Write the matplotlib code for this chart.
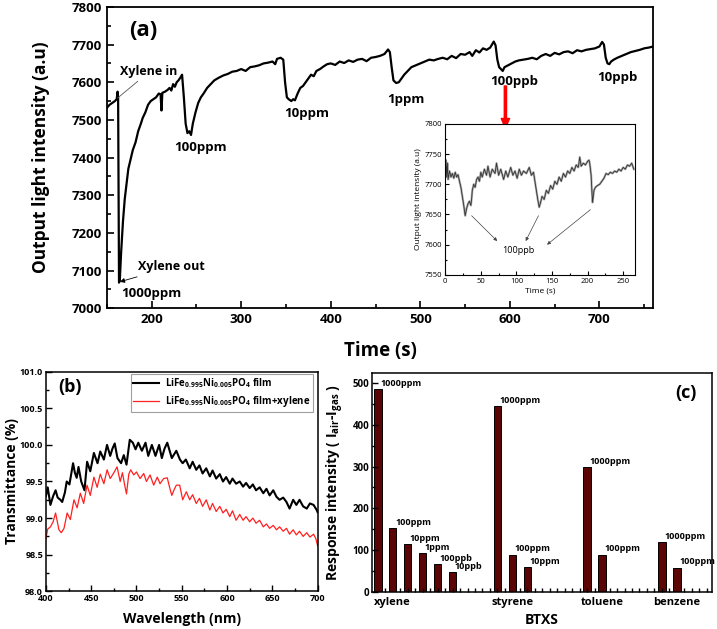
import numpy as np
import matplotlib
matplotlib.use('Agg')
import matplotlib.pyplot as plt
from matplotlib.ticker import MultipleLocator

plt.rcParams['font.family'] = ['Open Sans', 'DejaVu Sans']
plt.rcParams['font.weight'] = 'bold'
plt.rcParams['mathtext.fontset'] = 'custom'
plt.rcParams['mathtext.rm'] = 'Open Sans:bold'
plt.rcParams['mathtext.bf'] = 'Open Sans:bold'
plt.rcParams['mathtext.default'] = 'rm'

# (a) response curve
time_a = [150, 153, 156, 159, 161, 162, 162.6, 163.6, 164.5, 166, 168, 170, 172, 174, 177, 179,
          182, 185, 188, 190, 193, 196, 199, 202, 205, 208, 210, 211, 212, 215, 218, 220, 222,
          224, 226, 228, 230, 232, 234, 236, 238, 240, 242, 244, 246, 249, 252, 255, 258, 262,
          266, 270, 275, 280, 285, 290, 295, 300, 305, 310, 315, 320, 325, 330, 335, 338, 340,
          344, 347, 349, 351, 353, 356, 358, 360, 363, 366, 369, 372, 375, 378, 381, 384, 388,
          392, 396, 400, 405, 410, 415, 420, 425, 430, 435, 440, 445, 450, 455, 460, 464, 466,
          468, 470, 473, 476, 479, 482, 486, 490, 495, 500, 505, 510, 515, 520, 525, 530, 535,
          540, 545, 550, 555, 558, 562, 566, 570, 574, 578, 582, 584, 586, 588, 590, 592, 594,
          598, 602, 606, 610, 615, 620, 625, 630, 635, 640, 645, 650, 655, 660, 665, 670, 675,
          680, 685, 690, 695, 700, 703, 705, 707, 709, 711, 713, 716, 720, 725, 730, 735, 740,
          745, 750, 755, 760]
light_a = [7532, 7540, 7545, 7550, 7555, 7575, 7560, 7068, 7075, 7150, 7230, 7290, 7330, 7370,
           7400, 7420, 7440, 7470, 7490, 7505, 7520, 7540, 7550, 7555, 7560, 7570, 7568, 7525,
           7572, 7575, 7580, 7585, 7578, 7595, 7588, 7600, 7605, 7612, 7620, 7560, 7490, 7465,
           7470, 7460, 7490, 7520, 7545, 7560, 7570, 7585, 7595, 7605, 7612, 7618, 7622, 7628,
           7630, 7635, 7630, 7640, 7642, 7645, 7650, 7652, 7655, 7648, 7662, 7665, 7660, 7600,
           7560, 7555, 7550, 7555, 7552, 7570, 7585, 7590, 7600, 7610, 7620, 7616, 7630, 7635,
           7642, 7648, 7650, 7646, 7655, 7651, 7658, 7654, 7660, 7662, 7656, 7665, 7667, 7670,
           7675, 7687, 7680, 7640, 7605, 7598, 7600, 7610, 7620, 7630, 7640, 7645, 7650, 7655,
           7660, 7658, 7662, 7665, 7661, 7670, 7664, 7675, 7673, 7680, 7670, 7685, 7679, 7690,
           7686, 7692, 7708, 7698, 7660, 7640, 7635, 7630, 7640, 7645, 7650, 7655, 7658, 7660,
           7662, 7665, 7661, 7670, 7675, 7670, 7678, 7674, 7680, 7682, 7677, 7685, 7682, 7686,
           7688, 7690, 7695, 7707, 7700, 7665, 7650, 7648, 7655, 7660, 7665, 7670, 7675, 7680,
           7683, 7686, 7690, 7692, 7695]

# inset, 100ppb repeats
time_in = [0, 1, 2, 3, 4, 6, 8, 10, 12, 14, 16, 18, 20, 22, 24, 26, 28, 30, 32, 34, 36, 37, 38,
           40, 42, 44, 46, 48, 50, 52, 55, 58, 60, 63, 66, 70, 72, 75, 78, 82, 85, 88, 92, 95,
           98, 101, 104, 107, 110, 114, 118, 121, 124, 126, 128, 130, 132, 134, 136, 139, 142,
           145, 148, 151, 154, 157, 160, 163, 166, 169, 172, 175, 178, 181, 184, 187, 189, 191,
           194, 197, 200, 202, 203, 205, 206, 207, 209, 211, 214, 217, 220, 223, 226, 229, 232,
           235, 238, 241, 244, 247, 250, 253, 256, 259, 262, 265]
light_in = [7715, 7740, 7712, 7735, 7708, 7722, 7712, 7718, 7710, 7720, 7712, 7716, 7705, 7695,
            7680, 7665, 7648, 7660, 7668, 7672, 7665, 7675, 7690, 7700, 7695, 7708, 7712, 7705,
            7720, 7712, 7725, 7715, 7730, 7712, 7725, 7718, 7735, 7715, 7725, 7708, 7722, 7712,
            7728, 7715, 7722, 7710, 7725, 7715, 7722, 7718, 7728, 7715, 7720, 7705, 7690, 7675,
            7662, 7670, 7680, 7675, 7690, 7685, 7698, 7692, 7705, 7700, 7712, 7705, 7718, 7712,
            7722, 7718, 7728, 7722, 7732, 7728, 7745, 7730, 7735, 7732, 7738, 7740, 7735, 7715,
            7690, 7670, 7690, 7695, 7698, 7700, 7705, 7710, 7718, 7716, 7720, 7718, 7722, 7720,
            7725, 7722, 7728, 7725, 7732, 7730, 7735, 7725]

# (b) transmittance spectra
wl_film = [400, 402, 405, 408, 410.7, 413, 416, 418, 421, 423, 426, 430, 432, 434, 436, 439,
           442.6, 445.5, 449, 453, 457, 460, 464, 467.5, 471, 473.5, 476, 479, 483, 486, 489,
           492.6, 496, 499, 502, 506, 510, 513, 517, 521, 525, 528, 531, 534, 539, 544, 548,
           551, 554.5, 558.8, 562, 566, 569.5, 573, 577, 581, 584, 588, 592, 595.5, 599, 603,
           606, 610, 614, 617.7, 621, 625, 628.5, 632, 636, 640, 643.5, 647, 651, 654.6, 658,
           662, 665.6, 669, 673, 676.5, 680, 684, 688, 691.5, 695.5, 699, 700]
tr_film = [99.30, 99.42, 99.18, 99.30, 99.38, 99.28, 99.25, 99.22, 99.35, 99.50, 99.46, 99.75,
           99.62, 99.55, 99.70, 99.50, 99.38, 99.77, 99.64, 99.89, 99.75, 99.91, 99.80, 100.00,
           99.85, 99.95, 100.02, 99.82, 99.75, 99.86, 99.73, 100.07, 100.03, 99.94, 100.03,
           99.92, 100.03, 99.85, 100.00, 99.85, 100.00, 99.82, 99.95, 100.03, 99.82, 99.92,
           99.80, 99.75, 99.80, 99.68, 99.77, 99.66, 99.72, 99.61, 99.68, 99.57, 99.65, 99.54,
           99.60, 99.50, 99.56, 99.47, 99.54, 99.47, 99.50, 99.43, 99.48, 99.41, 99.46, 99.38,
           99.42, 99.34, 99.40, 99.31, 99.38, 99.29, 99.25, 99.28, 99.22, 99.13, 99.25, 99.18,
           99.25, 99.16, 99.13, 99.20, 99.18, 99.11, 99.08]
wl_xyl = [400, 402, 405, 408, 410.7, 414.4, 417, 420, 423.5, 427, 431, 434.5, 438, 441.7, 445.4,
          449, 453, 456.6, 460, 464, 467.6, 471, 475, 478.6, 482, 484.5, 487, 489, 491.5, 493.6,
          497, 500, 504, 508, 511, 515, 519, 523, 526, 530, 534, 537, 539, 542, 544, 547.7,
          551, 555, 558.8, 562, 566, 569.5, 573, 577, 581, 584, 588, 592, 595.5, 599, 603, 606,
          610, 614, 617.7, 621, 625, 628.5, 632, 636, 640, 643.5, 647, 651, 654.6, 658, 662,
          665.6, 669, 673, 676.5, 680, 684, 688, 691.5, 695.5, 698, 700]
tr_xyl = [98.72, 98.85, 98.88, 98.95, 99.07, 98.84, 98.80, 98.86, 99.07, 98.98, 99.25, 99.14,
          99.34, 99.20, 99.45, 99.31, 99.56, 99.42, 99.60, 99.47, 99.66, 99.54, 99.62, 99.70,
          99.50, 99.62, 99.45, 99.33, 99.60, 99.66, 99.59, 99.63, 99.54, 99.61, 99.50, 99.59,
          99.45, 99.56, 99.47, 99.54, 99.55, 99.40, 99.31, 99.40, 99.45, 99.45, 99.25, 99.36,
          99.25, 99.32, 99.20, 99.27, 99.16, 99.25, 99.11, 99.20, 99.09, 99.16, 99.07, 99.12,
          99.02, 99.10, 98.97, 99.05, 98.97, 99.02, 98.95, 99.00, 98.93, 98.97, 98.88, 98.92,
          98.86, 98.90, 98.84, 98.88, 98.82, 98.86, 98.78, 98.84, 98.77, 98.82, 98.75, 98.80,
          98.74, 98.78, 98.72, 98.62]

# (c) response bars
gases = ['xylene', 'styrene', 'toluene', 'benzene']
gas_slot = [1, 9, 15, 20]
bar_slot = [0, 1, 2, 3, 4, 5, 8, 9, 10, 14, 15, 19, 20]
bar_resp = [486, 153, 115, 93, 67, 48, 445, 89, 60, 299, 89, 120, 58]
bar_conc = ['1000ppm', '100ppm', '10ppm', '1ppm', '100ppb', '10ppb',
            '1000ppm', '100ppm', '10ppm', '1000ppm', '100ppm', '1000ppm', '100ppm']

fig = plt.figure(figsize=(7.17, 6.29), dpi=100)

# ---- panel (a)
ax = fig.add_axes([0.149, 0.510, 0.762, 0.479])
ax.plot(time_a, light_a, color='black', lw=1.6)
ax.set_xlim(150, 760)
ax.set_ylim(7000, 7800)
ax.xaxis.set_major_locator(MultipleLocator(100))
ax.xaxis.set_minor_locator(MultipleLocator(50))
ax.yaxis.set_major_locator(MultipleLocator(100))
ax.yaxis.set_minor_locator(MultipleLocator(50))
ax.tick_params(which='both', direction='in', labelsize=9.5, width=1.2)
ax.tick_params(which='major', length=5)
ax.tick_params(which='minor', length=3)
for s in ax.spines.values():
    s.set_linewidth(1.3)
ax.set_xlabel('Time (s)', fontsize=13.5, fontweight='bold')
ax.xaxis.set_label_coords(0.5, -0.11)
ax.set_ylabel('Output light intensity (a.u)', fontsize=12.5, fontweight='bold')
ax.yaxis.set_label_coords(-0.104, 0.5)
ax.text(0.04, 0.955, '(a)', transform=ax.transAxes, fontsize=16, fontweight='bold', va='top')

ax.annotate('Xylene in', xy=(162, 7558), xytext=(165, 7610), fontsize=9, fontweight='bold',
            ha='left', va='bottom',
            arrowprops=dict(arrowstyle='-', color='#555555', lw=0.6, shrinkA=0, shrinkB=0))
ax.annotate('Xylene out', xy=(164.5, 7070), xytext=(185, 7110), fontsize=9, fontweight='bold',
            ha='left', va='center',
            arrowprops=dict(arrowstyle='-|>', color='black', lw=0.6, mutation_scale=7,
                            shrinkA=2, shrinkB=0))
ax.text(166, 7040, '1000ppm', fontsize=9.5, fontweight='bold', ha='left', va='center')
ax.text(255, 7445, '100ppm', fontsize=9.5, fontweight='bold', ha='center', va='top')
ax.text(373, 7535, '10ppm', fontsize=9.5, fontweight='bold', ha='center', va='top')
ax.text(484, 7572, '1ppm', fontsize=9.5, fontweight='bold', ha='center', va='top')
ax.text(605, 7618, '100ppb', fontsize=9.5, fontweight='bold', ha='center', va='top')
ax.text(720, 7630, '10ppb', fontsize=9.5, fontweight='bold', ha='center', va='top')
ax.annotate('', xy=(595, 7478), xytext=(595, 7590),
            arrowprops=dict(color='red', width=1.6, headwidth=6, headlength=7, shrink=0),
            annotation_clip=False, zorder=10)

# ---- inset
axi = fig.add_axes([0.621, 0.563, 0.264, 0.240])
axi.plot(time_in, light_in, color='#aaaaaa', lw=1.6)
axi.plot(time_in, light_in, color='#333333', lw=0.6)
axi.set_xlim(0, 266)
axi.set_ylim(7550, 7800)
axi.xaxis.set_major_locator(MultipleLocator(50))
axi.xaxis.set_minor_locator(MultipleLocator(25))
axi.yaxis.set_major_locator(MultipleLocator(50))
axi.yaxis.set_minor_locator(MultipleLocator(25))
axi.tick_params(which='both', direction='in', labelsize=5.5, width=0.8, pad=2)
axi.tick_params(which='major', length=3)
axi.tick_params(which='minor', length=1.5)
for lab in axi.get_xticklabels() + axi.get_yticklabels():
    lab.set_fontweight('normal')
axi.set_xlabel('Time (s)', fontsize=6, fontweight='normal', labelpad=2)
axi.set_ylabel('Output light intensity (a.u)', fontsize=6, fontweight='normal', labelpad=2)
axi.text(103, 7590, '100ppb', fontsize=6.5, fontweight='normal', ha='center', va='center')
for tip, tail in [((73, 7606), (37, 7648)), ((113, 7606), (131, 7648)), ((143, 7600), (204, 7658))]:
    axi.annotate('', xy=tip, xytext=tail,
                 arrowprops=dict(arrowstyle='-|>', color='#444444', lw=0.5, mutation_scale=5,
                                 shrinkA=0, shrinkB=0))

# ---- panel (b)
axb = fig.add_axes([0.064, 0.060, 0.379, 0.349])
axb.plot(wl_film, tr_film, color='black', lw=1.5,
         label=r'LiFe$_{0.995}$Ni$_{0.005}$PO$_4$ film')
axb.plot(wl_xyl, tr_xyl, color='#ff2020', lw=0.9,
         label=r'LiFe$_{0.995}$Ni$_{0.005}$PO$_4$ film+xylene')
axb.set_xlim(400, 700)
axb.set_ylim(98.0, 101.0)
axb.xaxis.set_major_locator(MultipleLocator(50))
axb.xaxis.set_minor_locator(MultipleLocator(25))
axb.yaxis.set_major_locator(MultipleLocator(0.5))
axb.yaxis.set_minor_locator(MultipleLocator(0.25))
axb.yaxis.set_major_formatter(plt.FormatStrFormatter('%.1f'))
axb.tick_params(which='both', direction='in', labelsize=6.5, width=1, pad=2)
axb.tick_params(which='major', length=4)
axb.tick_params(which='minor', length=2)
axb.set_xlabel('Wavelength (nm)', fontsize=10, fontweight='bold')
axb.xaxis.set_label_coords(0.5, -0.096)
axb.set_ylabel('Transmittance (%)', fontsize=10, fontweight='bold')
axb.yaxis.set_label_coords(-0.1, 0.5)
axb.text(0.045, 0.97, '(b)', transform=axb.transAxes, fontsize=13, fontweight='bold', va='top')
leg = axb.legend(loc='upper right', bbox_to_anchor=(0.99, 1.0), fontsize=7, frameon=True,
                 fancybox=False, edgecolor='#888888', handlelength=2.6, borderpad=0.3,
                 labelspacing=0.4, handletextpad=0.6, borderaxespad=0.2)
leg.get_frame().set_linewidth(0.8)

# ---- panel (c)
axc = fig.add_axes([0.519, 0.059, 0.474, 0.348])
axc.bar(bar_slot, bar_resp, width=0.5, color='#5c0505', edgecolor='black', linewidth=0.7)
for x, h, c in zip(bar_slot, bar_resp, bar_conc):
    axc.text(x + 0.15, h + 3, c, fontsize=6.5, fontweight='bold', ha='left', va='bottom')
axc.set_xlim(-0.38, 22.35)
axc.set_ylim(0, 524)
axc.set_xticks(gas_slot)
axc.set_xticklabels(gases, fontsize=8, fontweight='bold')
axc.set_xticks(np.arange(0.5, 22.5, 0.5), minor=True)
axc.yaxis.set_major_locator(MultipleLocator(100))
axc.yaxis.set_minor_locator(MultipleLocator(50))
axc.tick_params(axis='x', which='major', length=0, pad=4)
axc.tick_params(axis='x', which='minor', direction='in', length=3, width=1)
axc.tick_params(axis='y', which='both', direction='in', labelsize=7, width=1, pad=2)
axc.tick_params(axis='y', which='major', length=4)
axc.tick_params(axis='y', which='minor', length=2)
axc.set_xlabel('BTXS', fontsize=10, fontweight='bold')
axc.xaxis.set_label_coords(0.5, -0.096)
axc.set_ylabel(r'Response intensity ( I$_{air}$-I$_{gas}$ )', fontsize=10, fontweight='bold')
axc.yaxis.set_label_coords(-0.076, 0.5)
axc.text(0.955, 0.95, '(c)', transform=axc.transAxes, fontsize=13, fontweight='bold',
         ha='right', va='top')
for s in list(axb.spines.values()) + list(axc.spines.values()):
    s.set_linewidth(1.1)

fig.savefig('out.png', dpi=100)
